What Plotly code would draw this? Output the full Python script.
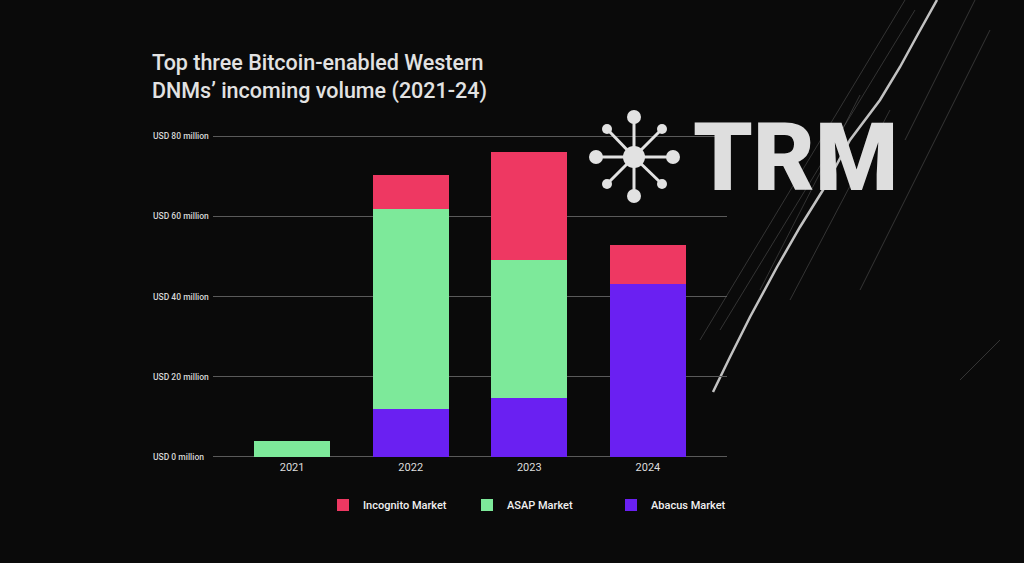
import plotly.graph_objects as go

# ---- data ----
years = ["2021", "2022", "2023", "2024"]
abacus = [0, 12.0, 14.8, 43.2]
asap = [4.0, 49.8, 34.3, 0]
incognito = [0, 8.4, 26.8, 9.7]
ytick_vals = [0, 20, 40, 60, 80]
ytick_text = ["USD 0 million", "USD 20 million", "USD 40 million", "USD 60 million", "USD 80 million"]

C_INC = "#EE3862"
C_ASAP = "#7DE99A"
C_ABA = "#6A20F2"

# plot area in pixels
L, R, T, B = 213, 727, 134, 459
W, H = 1024, 563


def px(x):
    return (x - L) / (R - L)


def py(y):
    return (B - y) / (B - T)


fig = go.Figure()
fig.add_trace(go.Bar(x=years, y=abacus, name="Abacus Market", marker_color=C_ABA, marker_line_width=0))
fig.add_trace(go.Bar(x=years, y=asap, name="ASAP Market", marker_color=C_ASAP, marker_line_width=0))
fig.add_trace(go.Bar(x=years, y=incognito, name="Incognito Market", marker_color=C_INC, marker_line_width=0))

annotations = []
# title
annotations.append(dict(
    text="Top three Bitcoin-enabled Western<br>DNMs’ incoming volume (2021-24)",
    xref="paper", yref="paper", x=px(150), y=py(48), xanchor="left", yanchor="top",
    showarrow=False, align="left",
    font=dict(family="Roboto", size=21.5, color="#e2e2e2", weight=500),
))
# left-aligned y tick labels
for v, t in zip(ytick_vals, ytick_text):
    annotations.append(dict(
        text=t, xref="paper", yref="y", x=px(151), y=v, xanchor="left", yanchor="middle",
        showarrow=False, font=dict(family="Roboto", size=8.5, color="#d6d6d6", weight=500),
    ))
# TRM wordmark
annotations.append(dict(
    text="TRM", xref="paper", yref="paper", x=px(795), y=py(157), xanchor="center", yanchor="middle",
    showarrow=False, font=dict(family="Roboto", size=95, color="#dedede", weight=900),
))

shapes = []
# background scratches (decorative)
scratch_main = "M 937 0 L 918 34 L 900 67 L 880 100 L 850 140 L 823 190 L 800 227 L 777 267 L 750 317 L 730 357 L 713 392"


def path_px(p):
    toks = p.split()
    out = []
    i = 0
    while i < len(toks):
        cmd = toks[i]
        x = float(toks[i + 1]); y = float(toks[i + 2])
        out.append(f"{cmd} {px(x):.5f} {py(y):.5f}")
        i += 3
    return " ".join(out)


shapes.append(dict(type="path", xref="paper", yref="paper", path=path_px(scratch_main),
                   line=dict(color="rgba(240,240,240,0.8)", width=2.5), layer="below"))
thin = [
    (905, 0, 700, 340), (915, 10, 720, 330), (860, 95, 760, 290), (975, 0, 905, 140),
    (990, 30, 860, 290), (890, 110, 790, 300), (1000, 340, 960, 380),
]
for (x0, y0, x1, y1) in thin:
    shapes.append(dict(type="line", xref="paper", yref="paper",
                       x0=px(x0), y0=py(y0), x1=px(x1), y1=py(y1),
                       line=dict(color="rgba(220,220,220,0.2)", width=1), layer="below"))

# TRM logo (decorative)
cx, cy = 634, 157
spokes = [
    (634, 117, 7), (634, 196, 7), (596, 157, 7), (673, 157, 7),
    (607, 129, 5), (662, 129, 5), (607, 184, 5), (662, 184, 5),
]
for (sx, sy, r) in spokes:
    shapes.append(dict(type="line", xref="paper", yref="paper",
                       x0=px(cx), y0=py(cy), x1=px(sx), y1=py(sy),
                       line=dict(color="#e2e2e2", width=3)))
for (sx, sy, r) in spokes + [(cx, cy, 11)]:
    shapes.append(dict(type="circle", xref="paper", yref="paper",
                       x0=px(sx - r), x1=px(sx + r), y0=py(sy + r), y1=py(sy - r),
                       fillcolor="#e2e2e2", line=dict(width=0)))

fig.update_layout(
    width=W, height=H,
    margin=dict(l=L, r=W - R, t=T, b=H - B, pad=0),
    paper_bgcolor="#0a0a0a",
    plot_bgcolor="rgba(0,0,0,0)",
    barmode="stack",
    bargap=0.36,
    showlegend=True,
    legend=dict(
        orientation="h", traceorder="reversed",
        x=px(323), y=py(505), xanchor="left", yanchor="middle",
        entrywidth=99, entrywidthmode="pixels",
        font=dict(family="Roboto", size=11, color="#f0f0f0", weight=500),
        bgcolor="rgba(0,0,0,0)",
    ),
    xaxis=dict(
        range=[-0.667, 3.667], showgrid=False, zeroline=False, showline=False,
        tickfont=dict(family="Roboto", size=11, color="#dddddd"), ticks="",
    ),
    yaxis=dict(
        range=[-0.5, 80.5], tickvals=ytick_vals, showticklabels=False,
        showgrid=True, gridcolor="#5a5a5a", gridwidth=1, zeroline=False,
    ),
    annotations=annotations,
    shapes=shapes,
)

fig.write_html("out.html")
